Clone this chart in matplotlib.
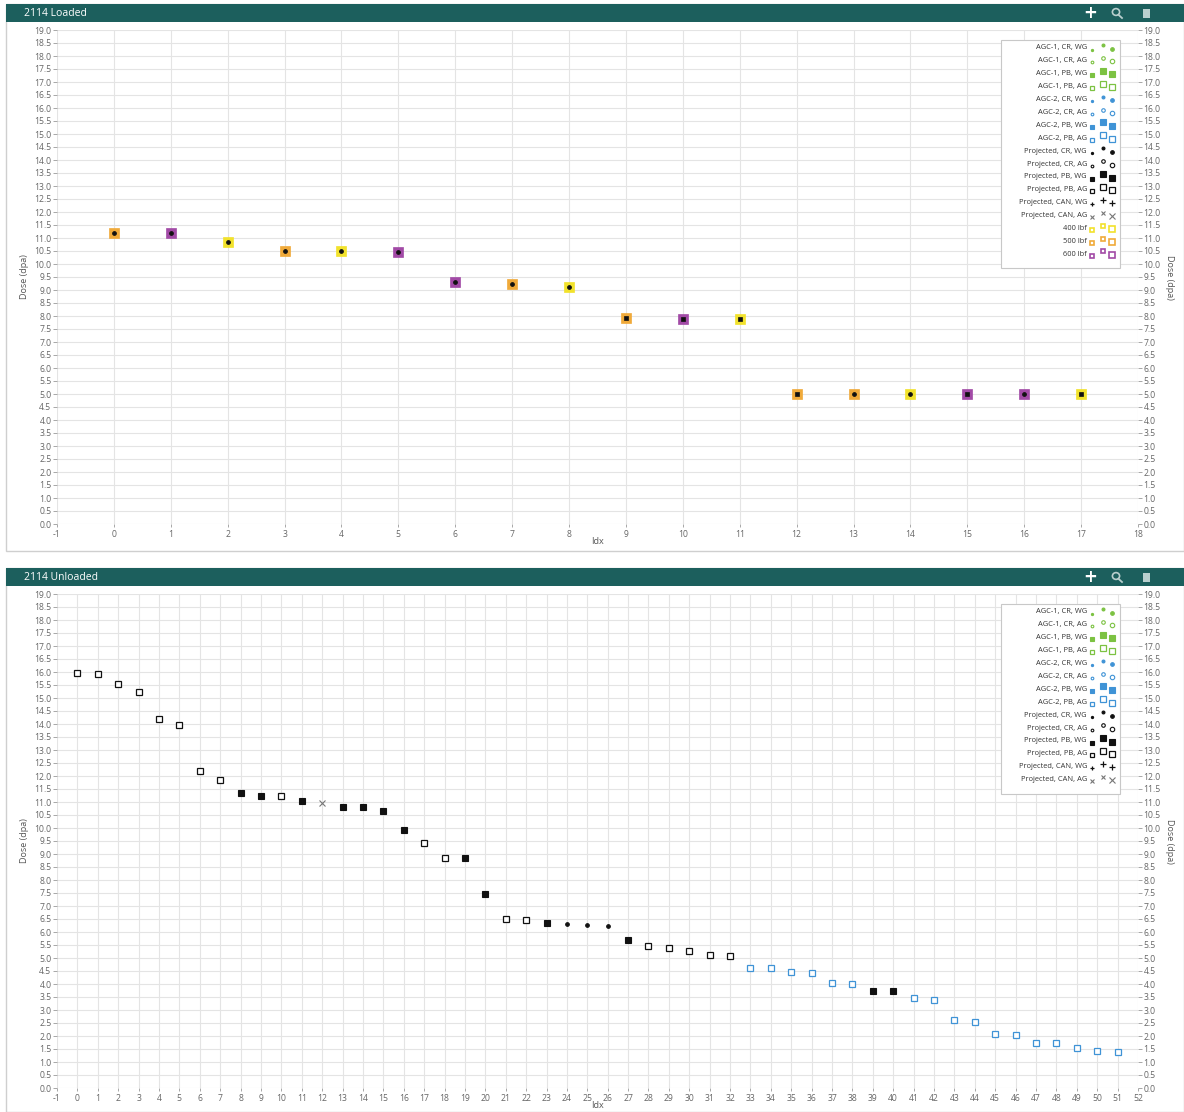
import numpy as np
import matplotlib
matplotlib.use("Agg")
import matplotlib.pyplot as plt
from matplotlib.patches import Rectangle, Circle
from matplotlib.lines import Line2D

plt.rcParams["axes.unicode_minus"] = False
plt.rcParams["font.family"] = ["Open Sans", "DejaVu Sans"]

# loaded capsules: dose per index, load (lbf) and projected specimen kind
loaded_dose = [11.2, 11.2, 10.85, 10.5, 10.5, 10.45, 9.3, 9.25, 9.1,
               7.92, 7.9, 7.88, 5.0, 5.0, 5.0, 5.0, 5.0, 5.0]
loaded_load = [500, 600, 400, 500, 400, 600, 600, 500, 400,
               500, 600, 400, 500, 500, 400, 600, 600, 400]
loaded_kind = ["Projected, CR, WG"] * 9 + ["Projected, PB, WG"] * 4 + \
              ["Projected, CR, WG", "Projected, CR, WG", "Projected, PB, WG",
               "Projected, CR, WG", "Projected, PB, WG"]

# unloaded capsules
unloaded_dose = [15.96, 15.92, 15.55, 15.22, 14.2, 13.96, 12.2, 11.85, 11.35, 11.24,
                 11.24, 11.04, 10.96, 10.8, 10.8, 10.64, 9.92, 9.42, 8.85, 8.85,
                 7.46, 6.5, 6.46, 6.35, 6.3, 6.27, 6.22, 5.69, 5.45, 5.38,
                 5.27, 5.12, 5.08, 4.62, 4.62, 4.46, 4.42, 4.04, 4.0, 3.73,
                 3.73, 3.46, 3.38, 2.62, 2.54, 2.08, 2.04, 1.73, 1.73, 1.55,
                 1.42, 1.38]
unloaded_kind = (["Projected, PB, AG"] * 8 +
                 ["Projected, PB, WG", "Projected, PB, WG", "Projected, PB, AG",
                  "Projected, PB, WG", "Projected, CAN, AG", "Projected, PB, WG",
                  "Projected, PB, WG", "Projected, PB, WG", "Projected, PB, WG",
                  "Projected, PB, AG", "Projected, PB, AG", "Projected, PB, WG",
                  "Projected, PB, WG", "Projected, PB, AG", "Projected, PB, AG",
                  "Projected, PB, WG", "Projected, CR, WG", "Projected, CR, WG",
                  "Projected, CR, WG", "Projected, PB, WG"] +
                 ["Projected, PB, AG"] * 5 +
                 ["AGC-2, PB, AG"] * 6 +
                 ["Projected, PB, WG", "Projected, PB, WG"] +
                 ["AGC-2, PB, AG"] * 11)

series_names = ["AGC-1, CR, WG", "AGC-1, CR, AG", "AGC-1, PB, WG", "AGC-1, PB, AG",
                "AGC-2, CR, WG", "AGC-2, CR, AG", "AGC-2, PB, WG", "AGC-2, PB, AG",
                "Projected, CR, WG", "Projected, CR, AG", "Projected, PB, WG",
                "Projected, PB, AG", "Projected, CAN, WG", "Projected, CAN, AG"]
load_names = ["400 lbf", "500 lbf", "600 lbf"]

GREEN = "#7cc242"
BLUE = "#3f93d6"
BLACK = "#111111"
load_colors = {400: "#f2e22c", 500: "#f0aa3a", 600: "#a24aa6"}


def series_style(name):
    color = BLACK
    if name.startswith("AGC-1"):
        color = GREEN
    elif name.startswith("AGC-2"):
        color = BLUE
    if "CR, WG" in name:
        return dict(marker="o", ms=2.6, mfc=color, mec=color, mew=0.8)
    if "CR, AG" in name:
        return dict(marker="o", ms=3.2, mfc="white", mec=color, mew=0.8)
    if "PB, WG" in name:
        return dict(marker="s", ms=4.6, mfc=color, mec=color, mew=0.8)
    if "PB, AG" in name:
        return dict(marker="s", ms=4.6, mfc="white", mec=color, mew=0.9)
    if "CAN, WG" in name:
        return dict(marker="+", ms=5, mfc=color, mec=color, mew=0.9)
    return dict(marker="x", ms=4, mfc=color, mec="#777777", mew=0.8)


W, H = 1184, 1112
fig = plt.figure(figsize=(W / 100, H / 100), dpi=100)
fig.patch.set_facecolor("white")

TEAL = "#1c5f5d"
TXT = "#666666"


def px_box(x0, y0, x1, y1):
    return [x0 / W, 1 - y1 / H, (x1 - x0) / W, (y1 - y0) / H]


def card(y0, y1, title):
    fig.patches.append(Rectangle((6 / W, 1 - y1 / H), (W - 6) / W, (y1 - y0) / H,
                                 transform=fig.transFigure, fc="white",
                                 ec="#cfcfcf", lw=1.0, zorder=-2))
    fig.patches.append(Rectangle((6 / W, 1 - (y0 + 18) / H), (W - 6) / W, 18 / H,
                                 transform=fig.transFigure, fc=TEAL, ec="none",
                                 zorder=-1))
    fig.text(24 / W, 1 - (y0 + 9.5) / H, title, color="white", fontsize=7.5,
             va="center", ha="left")
    # toolbar: cross, magnifier, hand
    yc = 1 - (y0 + 9) / H
    fig.text(1090 / W, yc, "+", color="white", fontsize=12, fontweight="bold",
             ha="center", va="center", family="DejaVu Sans")
    fig.patches.append(Circle((1116 / W, yc + 1 / H), 3.6 / W,
                              transform=fig.transFigure, fc="none",
                              ec="#b9cfce", lw=1.2, zorder=2))
    fig.lines.append(Line2D([1118.5 / W, 1122 / W], [yc - 1.8 / H, yc - 5 / H],
                            transform=fig.transFigure, color="#b9cfce", lw=1.3))
    fig.patches.append(Rectangle((1142.5 / W, yc - 5 / H), 7 / W, 9 / H,
                                 transform=fig.transFigure, fc="#b9cfce",
                                 ec="none", zorder=2))


def style_axes(ax, xmax):
    ax.set_facecolor("none")
    ax.set_xlim(-1, xmax)
    ax.set_ylim(0, 19)
    ax.set_xticks(np.arange(-1, xmax + 1))
    ax.set_yticks(np.arange(0, 19.01, 0.5))
    ax.set_yticklabels([f"{v:.1f}" for v in np.arange(0, 19.01, 0.5)])
    ax.grid(True, color="#e4e4e4", lw=0.8)
    ax.set_axisbelow(True)
    for s in ax.spines.values():
        s.set_visible(False)
    ax.tick_params(axis="y", left=True, right=True, labelleft=True,
                   labelright=True, direction="out", length=3, width=0.6,
                   color="#999999", labelsize=6.2, labelcolor=TXT, pad=1)
    ax.tick_params(axis="x", direction="out", length=2, width=0.6,
                   color="#999999", labelsize=6.2, labelcolor=TXT, pad=2)
    ax.set_xlabel("Idx", fontsize=6.5, color="#555555", labelpad=-1)
    ax.set_ylabel("Dose (dpa)", fontsize=6.5, color="#555555", labelpad=4)
    ax2 = ax.secondary_yaxis("right")
    ax2.set_yticks([])
    ax2.spines["right"].set_visible(False)
    ax2.set_ylabel("Dose (dpa)", fontsize=6.5, color="#555555", rotation=270,
                   labelpad=26)


def draw_legend(ax, top_px, with_loads):
    # legend box placed in axes pixels, drawn with axes coordinates
    bb = ax.get_position()
    ax_w, ax_h = bb.width * W, bb.height * H
    x0, x1 = 1001 - 57, 1120 - 57
    names = series_names + (load_names if with_loads else [])
    step = 12.9
    y_top = top_px
    y_bot = y_top + step * len(names) + 9
    ax.add_patch(Rectangle((x0 / ax_w, 1 - y_bot / ax_h), (x1 - x0) / ax_w,
                           (y_bot - y_top) / ax_h, transform=ax.transAxes,
                           fc="white", ec="#c8c8c8", lw=0.8, zorder=5,
                           clip_on=False))
    for i, name in enumerate(names):
        yy = 1 - (y_top + 8 + step * i) / ax_h
        ax.text((x1 - 33) / ax_w, yy, name, transform=ax.transAxes,
                fontsize=5.4, color="#333333", ha="right", va="center",
                zorder=6)
        if name in load_names:
            c = load_colors[int(name.split()[0])]
            st = dict(marker="s", ms=4.2, mfc="white", mec=c, mew=1.2)
        else:
            st = series_style(name)
        ax.plot([(x1 - 28) / ax_w], [yy - 1.5 / ax_h], transform=ax.transAxes,
                ls="none", zorder=6, clip_on=False,
                **dict(st, ms=st["ms"] * 0.6))
        ax.plot([(x1 - 17) / ax_w], [yy + 3 / ax_h], transform=ax.transAxes,
                ls="none", zorder=6, clip_on=False,
                **dict(st, ms=st["ms"] * 0.8))
        ax.plot([(x1 - 8) / ax_w], [yy - 0.5 / ax_h], transform=ax.transAxes,
                ls="none", zorder=6, clip_on=False, **st)


# --- top card: loaded ---
card(4, 551, "2114 Loaded")
ax1 = fig.add_axes(px_box(57, 30, 1138, 524))
style_axes(ax1, 18)
idx = np.arange(len(loaded_dose))
for i, d in enumerate(loaded_dose):
    ax1.plot(idx[i], d, ls="none", marker="s", ms=6.6,
             mfc=load_colors[loaded_load[i]], mec=load_colors[loaded_load[i]],
             mew=0.5, zorder=3)
    st = series_style(loaded_kind[i])
    if st["marker"] == "s":
        st = dict(st, ms=3.4, mew=0.5)
    ax1.plot(idx[i], d, ls="none", zorder=4, **st)
draw_legend(ax1, 10, True)

# --- bottom card: unloaded ---
card(568, 1112, "2114 Unloaded")
ax2 = fig.add_axes(px_box(57, 594, 1138, 1088))
style_axes(ax2, 52)
idx = np.arange(len(unloaded_dose))
for name in series_names:
    sel = [i for i, k in enumerate(unloaded_kind) if k == name]
    if not sel:
        continue
    ax2.plot(idx[sel], np.array(unloaded_dose)[sel], ls="none", zorder=4,
             **series_style(name))
draw_legend(ax2, 10, False)

fig.savefig("out.png", dpi=100)
